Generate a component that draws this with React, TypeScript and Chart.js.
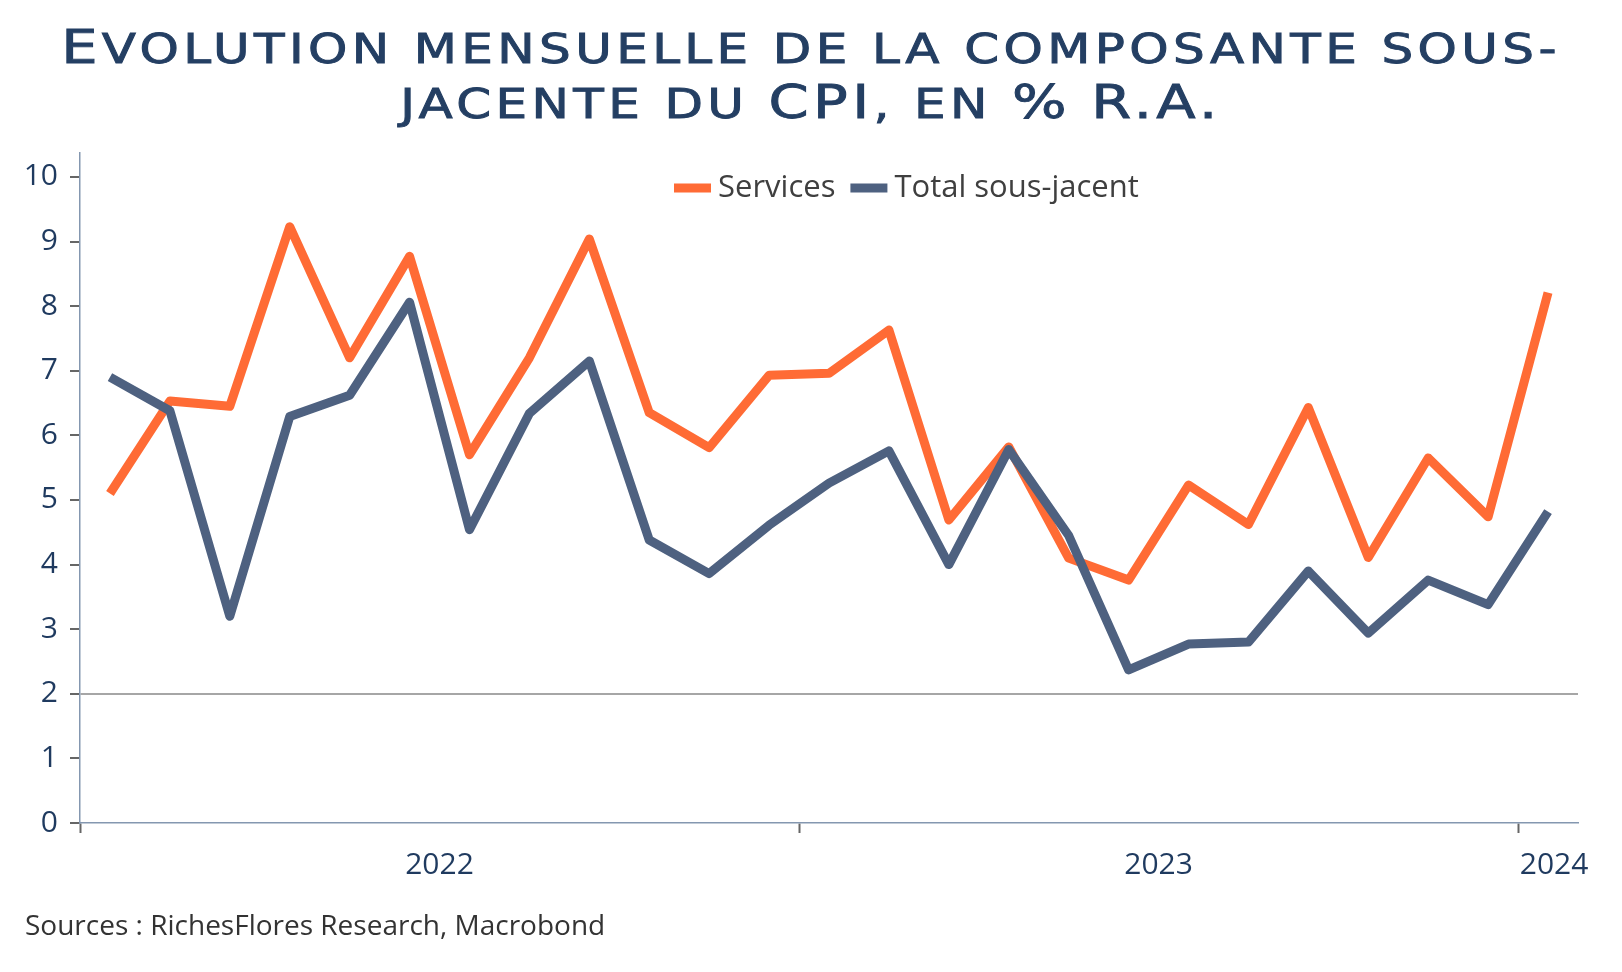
import React, { useEffect, useRef } from "react";
import { Chart, registerables } from "chart.js";

Chart.register(...registerables);

const months = [
  "2022-01", "2022-02", "2022-03", "2022-04", "2022-05", "2022-06",
  "2022-07", "2022-08", "2022-09", "2022-10", "2022-11", "2022-12",
  "2023-01", "2023-02", "2023-03", "2023-04", "2023-05", "2023-06",
  "2023-07", "2023-08", "2023-09", "2023-10", "2023-11", "2023-12",
  "2024-01",
];

const services = [
  5.1, 6.53, 6.45, 9.23, 7.2, 8.77, 5.7, 7.2, 9.04, 6.35, 5.81, 6.93,
  6.96, 7.63, 4.69, 5.82, 4.1, 3.76, 5.23, 4.62, 6.43, 4.11, 5.65, 4.74,
  8.21,
];

const totalSousJacent = [
  6.9, 6.38, 3.2, 6.29, 6.62, 8.06, 4.54, 6.34, 7.15, 4.38, 3.86, 4.61,
  5.26, 5.76, 4.0, 5.78, 4.45, 2.37, 2.77, 2.8, 3.9, 2.94, 3.76, 3.38,
  4.82,
];

const yearLabels = ["2022", "2023", "2024"];
const yearLabelPos = [5.5, 17.5, 24.1];
const yearBoundaries = [-0.5, 11.5, 23.5];
const yTicks = [0, 1, 2, 3, 4, 5, 6, 7, 8, 9, 10];
const refLine = 2;

const ORANGE = "#FF6B35";
const BLUE = "#4E6180";
const NAVY = "#1F3A5F";
const FONT = "'Open Sans', 'Noto Sans', sans-serif";

const legendPlugin = {
  id: "customLegend",
  afterDraw(chart: any) {
    const ctx = chart.ctx;
    ctx.save();
    ctx.font = `31px ${FONT}`;
    ctx.textBaseline = "middle";
    let x = 674;
    const y = 188;
    const items = [chart.data.datasets[0], chart.data.datasets[1]];
    items.forEach((ds: any) => {
      ctx.fillStyle = ds.borderColor;
      ctx.fillRect(x, y - 4.5, 37, 9);
      x += 44;
      ctx.fillStyle = "#3F3F3F";
      ctx.fillText(ds.label, x, y);
      x += ctx.measureText(ds.label).width + 15;
    });
    ctx.restore();
  },
};

const Big = ({ children }: { children: React.ReactNode }) => (
  <span style={{ fontSize: 46, lineHeight: "10px" }}>{children}</span>
);

export default function App() {
  const ref = useRef<HTMLCanvasElement | null>(null);

  useEffect(() => {
    if (!ref.current) return;
    const chart = new Chart(ref.current, {
      type: "line",
      data: {
        datasets: [
          {
            label: "Services",
            data: services.map((v, i) => ({ x: i, y: v })),
            borderColor: ORANGE,
            backgroundColor: ORANGE,
            borderWidth: 9,
            pointRadius: 0,
            borderJoinStyle: "round",
            tension: 0,
            order: 2,
          },
          {
            label: "Total sous-jacent",
            data: totalSousJacent.map((v, i) => ({ x: i, y: v })),
            borderColor: BLUE,
            backgroundColor: BLUE,
            borderWidth: 9,
            pointRadius: 0,
            borderJoinStyle: "round",
            tension: 0,
            order: 1,
          },
        ],
      },
      options: {
        animation: false,
        responsive: false,
        maintainAspectRatio: false,
        layout: { padding: { left: 0, right: 44, top: 153, bottom: 0 } },
        plugins: {
          legend: { display: false },
          title: { display: false },
          tooltip: { enabled: false },
        },
        scales: {
          x: {
            type: "linear",
            min: -0.5,
            max: 24.5,
            afterFit: (s: any) => {
              s.height = 149;
            },
            afterBuildTicks: (s: any) => {
              s.ticks = [
                ...yearBoundaries.map((v) => ({ value: v })),
                ...yearLabelPos.map((v) => ({ value: v })),
              ];
            },
            border: { color: "#8497B0", width: 1.5 },
            grid: {
              drawOnChartArea: false,
              drawTicks: true,
              tickLength: 10,
              tickWidth: 2,
              tickColor: (c: any) =>
                c.tick && yearBoundaries.includes(c.tick.value) ? "#666666" : "rgba(0,0,0,0)",
            },
            ticks: {
              autoSkip: false,
              maxRotation: 0,
              padding: 14,
              color: NAVY,
              font: { family: FONT, size: 30 },
              callback: (v: any) => {
                const idx = yearLabelPos.indexOf(Number(v));
                return idx >= 0 ? yearLabels[idx] : "";
              },
            },
          },
          y: {
            min: 0,
            max: 10.37,
            afterFit: (s: any) => {
              s.width = 80;
            },
            afterBuildTicks: (s: any) => {
              s.ticks = yTicks.map((v) => ({ value: v }));
            },
            border: { color: "#8497B0", width: 1.5 },
            grid: {
              drawOnChartArea: true,
              tickLength: 10,
              tickWidth: 2,
              tickColor: "#666666",
              lineWidth: 2,
              color: (c: any) =>
                c.tick && c.tick.value === refLine ? "#A6A6A6" : "rgba(0,0,0,0)",
            },
            ticks: {
              padding: 12,
              color: NAVY,
              font: { family: FONT, size: 30 },
            },
          },
        },
      },
      plugins: [legendPlugin],
    } as any);
    return () => chart.destroy();
  }, []);

  return (
    <div style={{ position: "fixed", left: 0, top: 0, width: 1622, height: 972, background: "#fff" }}>
      <canvas ref={ref} width={1622} height={972} style={{ position: "absolute", left: 0, top: 0, width: 1622, height: 972 }} />
      <div
        style={{
          position: "absolute",
          left: 0,
          top: 22,
          width: 1622,
          textAlign: "center",
          fontFamily: "'DejaVu Sans', sans-serif",
          textTransform: "uppercase",
          fontSize: 40,
          lineHeight: "55px",
          letterSpacing: 3.5,
          color: "#243F63",
          whiteSpace: "nowrap",
          transform: "scaleX(1.25)",
          transformOrigin: "811px 0",
          WebkitTextStroke: "0.9px #243F63",
        }}
      >
        <Big>E</Big>volution mensuelle de la composante sous-
        <br />
        jacente du <Big>CPI</Big>, en <Big>%</Big> <Big>R.A.</Big>
      </div>
      <div
        style={{
          position: "absolute",
          left: 25,
          top: 905,
          fontFamily: FONT,
          fontSize: 28,
          color: "#333333",
          whiteSpace: "nowrap",
        }}
      >
        Sources : RichesFlores Research, Macrobond
      </div>
    </div>
  );
}
